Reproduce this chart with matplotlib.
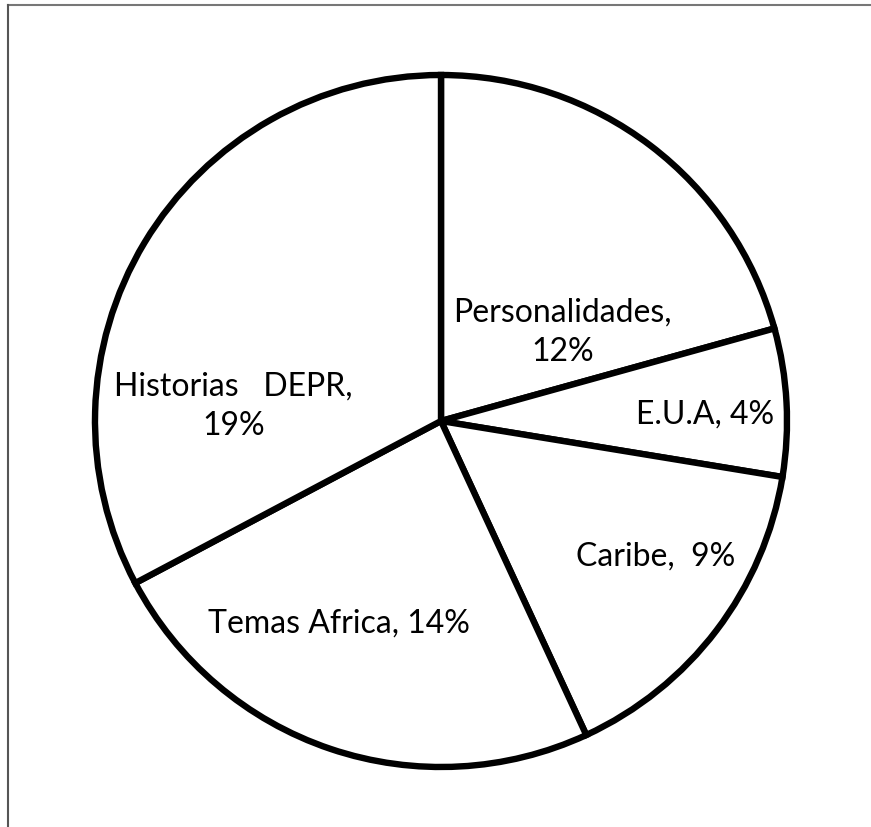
import matplotlib.pyplot as plt
from matplotlib.lines import Line2D

categorias = ['Personalidades', 'E.U.A', 'Caribe', 'Temas Africa', 'Historias  DEPR']
valores = [12, 4, 9, 14, 19]
etiquetas = ['Personalidades,\n12%', 'E.U.A, 4%', 'Caribe,  9%',
             'Temas Africa, 14%', 'Historias   DEPR,\n19%']

# posiciones de las etiquetas (coordenadas del pie, radio 1)
pos_etiquetas = [(0.352, 0.260), (0.762, 0.023), (0.620, -0.388),
                 (-0.296, -0.583), (-0.600, 0.045)]

fig = plt.figure(figsize=(8.71, 8.28), dpi=100)
ax = fig.add_axes([95 / 871, 60 / 828, 692 / 871, 692 / 828])

ax.pie(valores, startangle=90, counterclock=False, colors=['white'] * len(valores),
       wedgeprops={'edgecolor': 'black', 'linewidth': 4.6})

for txt, (x, y) in zip(etiquetas, pos_etiquetas):
    ax.text(x, y, txt, ha='center', va='center', fontsize=23, family='Lato',
            linespacing=1.4)

ax.set_xlim(-1.0, 1.0)
ax.set_ylim(-1.0, 1.0)
ax.set_aspect('auto')
ax.axis('off')

# marco parcial del gráfico
fig.add_artist(Line2D([8 / 871, 1], [1 - 5.5 / 828, 1 - 5.5 / 828], color='#777777', lw=1.5))
fig.add_artist(Line2D([8 / 871, 8 / 871], [0, 1 - 5.5 / 828], color='#555555', lw=1.5))

plt.savefig('out.png', dpi=100)
